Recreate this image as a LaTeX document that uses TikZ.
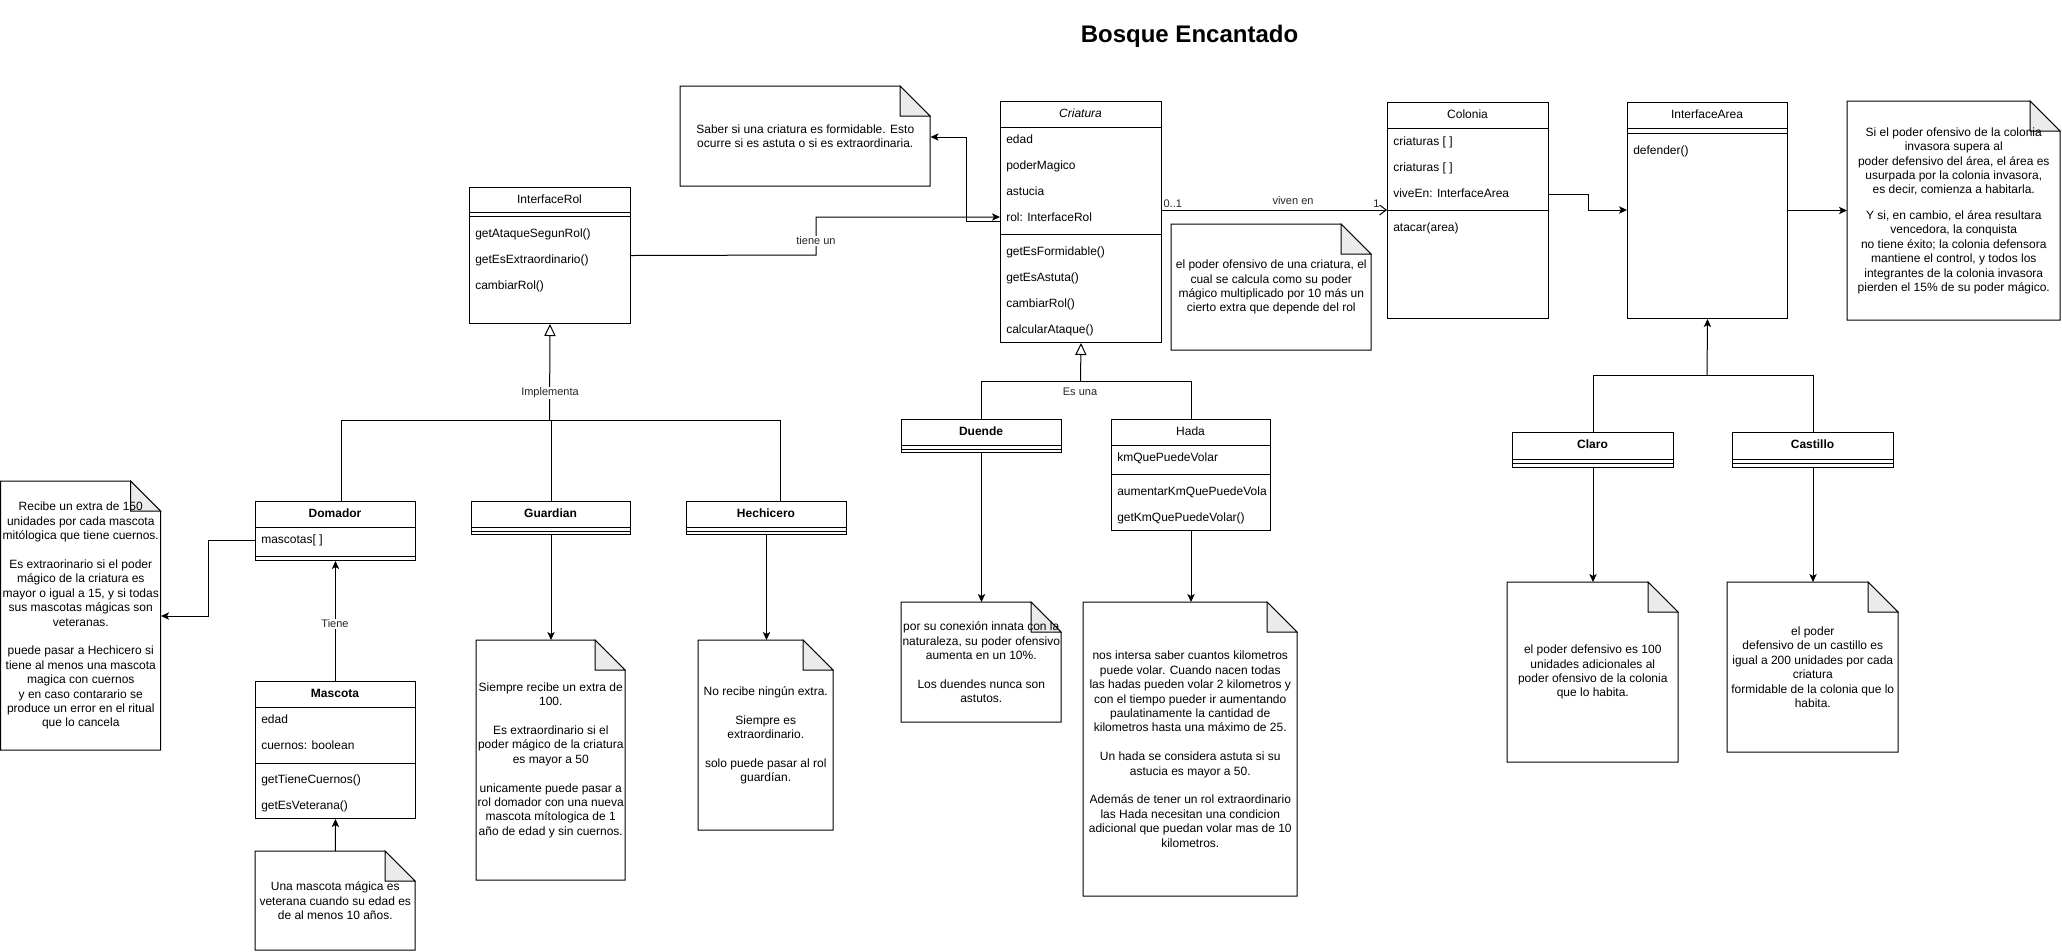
\documentclass[tikz,border=0pt]{standalone}
\usepackage{fontspec}
\setmainfont{Liberation Sans}
\usetikzlibrary{arrows.meta}
\tikzset{
  base/.style={font=\fontsize{9}{10.8}\selectfont, text=black},
  cls/.style={draw, line width=0.75pt, inner sep=0pt, anchor=north west, fill=white},
  hdr/.style={base, inner sep=0pt, text height=6.5pt, text depth=1.8pt},
  hdrb/.style={hdr, font=\fontsize{9}{10.8}\selectfont\bfseries},
  hdri/.style={hdr, font=\fontsize{9}{10.8}\selectfont\itshape},
  row/.style={base, anchor=west, inner sep=0pt, text height=6.5pt, text depth=1.8pt},
  sepline/.style={line width=0.75pt},
  notebody/.style={draw, line width=0.75pt, fill=white, line join=miter},
  notefold/.style={draw, line width=0.75pt, fill=black!8, line join=miter},
  noteanchor/.style={inner sep=0pt, anchor=north west},
  notetext/.style={base, align=center, inner sep=0pt},
  conn/.style={line width=0.75pt},
  arr/.style={conn, -{Stealth[length=6pt, width=5.5pt, inset=1.5pt]}},
  inh/.style={conn, -{Triangle[open, length=9pt, width=8.5pt]}},
  barb/.style={conn, -{Straight Barb[length=5pt, width=7.5pt]}},
  elabel/.style={font=\fontsize{8.25}{9.9}\selectfont, text=black!85, inner sep=1pt},
}
\newcommand\clsbox[5]{\node[cls, minimum width={#4*0.75pt}, minimum height={#5*0.75pt}] (#1) at (#2,#3) {};}
\newcommand\sepat[3]{\draw[sepline] (#1,#3) -- ({#1+#2},#3);}
\newcommand\notebox[6]{%
  \draw[notebody] (#2,#3) -- ({#2+#4-30},#3) -- ({#2+#4},{#3+30}) -- ({#2+#4},{#3+#5}) -- (#2,{#3+#5}) -- cycle;
  \draw[notefold] ({#2+#4-30},#3) -- ({#2+#4-30},{#3+30}) -- ({#2+#4},{#3+30}) -- cycle;
  \node[noteanchor, minimum width={#4*0.75pt}, minimum height={#5*0.75pt}] (#1) at (#2,#3) {};
  \node[notetext] (#1-text) at (#1.center) {#6};
}
\begin{document}
\begin{tikzpicture}[x=0.75pt, y=-0.75pt]
\useasboundingbox (0,0) rectangle (2062,951);
\fill[white] (0,0) rectangle (2062,951);

% title
\node[font=\fontsize{18}{22}\selectfont\bfseries] (title) at (1189.5,36) {Bosque Encantado};

% ---------- InterfaceRol
\clsbox{irol}{469}{187}{161}{136}
\node[hdr] (irol-name) at (549.5,200) {InterfaceRol};
\sepat{469}{161}{212}\sepat{469}{161}{216}
\node[row] (irol-m1) at (475,234) {getAtaqueSegunRol()};
\node[row] (irol-m2) at (475,260) {getEsExtraordinario()};
\node[row] (irol-m3) at (475,286) {cambiarRol()};

% ---------- Criatura
\clsbox{criatura}{1000}{101}{161}{241}
\node[hdri] (cri-name) at (1080.5,114) {Criatura};
\sepat{1000}{161}{127}
\node[row] (cri-a1) at (1006,140) {edad};
\node[row] (cri-a2) at (1006,166) {poderMagico};
\node[row] (cri-a3) at (1006,192) {astucia};
\node[row] (cri-a4) at (1006,218) {rol: InterfaceRol};
\sepat{1000}{161}{234}
\node[row] (cri-m1) at (1006,252) {getEsFormidable()};
\node[row] (cri-m2) at (1006,278) {getEsAstuta()};
\node[row] (cri-m3) at (1006,304) {cambiarRol()};
\node[row] (cri-m4) at (1006,330) {calcularAtaque()};

% ---------- Colonia
\clsbox{colonia}{1387}{102}{161}{216}
\node[hdr] (col-name) at (1467.5,115) {Colonia};
\sepat{1387}{161}{128}
\node[row] (col-a1) at (1393,142) {criaturas [ ]};
\node[row] (col-a2) at (1393,168) {criaturas [ ]};
\node[row] (col-a3) at (1393,194) {viveEn: InterfaceArea};
\sepat{1387}{161}{210}
\node[row] (col-m1) at (1393,228) {atacar(area)};

% ---------- InterfaceArea
\clsbox{iarea}{1627}{102}{160}{216}
\node[hdr] (iarea-name) at (1707,115) {InterfaceArea};
\sepat{1627}{160}{128}\sepat{1627}{160}{133}
\node[row] (iarea-m1) at (1633,151) {defender()};

% ---------- Domador
\clsbox{domador}{255}{501}{160}{59}
\node[hdrb] (dom-name) at (335,514) {Domador};
\sepat{255}{160}{527}
\node[row] (dom-a1) at (261,540) {mascotas[ ]};
\sepat{255}{160}{556}

% ---------- Guardian
\clsbox{guardian}{471}{501}{159}{33}
\node[hdrb] (gua-name) at (550.5,514) {Guardian};
\sepat{471}{159}{527}\sepat{471}{159}{531}

% ---------- Hechicero
\clsbox{hechicero}{686}{501}{160}{33}
\node[hdrb] (hec-name) at (766,514) {Hechicero};
\sepat{686}{160}{527}\sepat{686}{160}{531}

% ---------- Mascota
\clsbox{mascota}{255}{681}{160}{137}
\node[hdrb] (mas-name) at (335,694) {Mascota};
\sepat{255}{160}{707}
\node[row] (mas-a1) at (261,720) {edad};
\node[row] (mas-a2) at (261,746) {cuernos: boolean};
\sepat{255}{160}{763}
\node[row] (mas-m1) at (261,780) {getTieneCuernos()};
\node[row] (mas-m2) at (261,806) {getEsVeterana()};

% ---------- Duende
\clsbox{duende}{901}{419}{160}{33}
\node[hdrb] (due-name) at (981,432) {Duende};
\sepat{901}{160}{445}\sepat{901}{160}{449}

% ---------- Hada
\clsbox{hada}{1111}{419}{159}{111}
\node[hdr] (hada-name) at (1190.5,432) {Hada};
\sepat{1111}{159}{445}
\node[row] (hada-a1) at (1117,458) {kmQuePuedeVolar};
\sepat{1111}{159}{474}
\node[row] (hada-m1) at (1117,492) {aumentarKmQuePuedeVola};
\node[row] (hada-m2) at (1117,518) {getKmQuePuedeVolar()};

% ---------- Claro / Castillo
\clsbox{claro}{1512}{432}{161}{35}
\node[hdrb] (cla-name) at (1592.5,445) {Claro};
\sepat{1512}{161}{459}\sepat{1512}{161}{463}
\clsbox{castillo}{1732}{432}{161}{35}
\node[hdrb] (cas-name) at (1812.5,445) {Castillo};
\sepat{1732}{161}{459}\sepat{1732}{161}{463}

% ---------- Notes
\notebox{ndom}{0.5}{481}{160}{269}{Recibe un extra de 150\\unidades por cada mascota\\mitólogica que tiene cuernos.\\[10.8pt]Es extraorinario si el poder\\mágico de la criatura es\\mayor o igual a 15, y si todas\\sus mascotas mágicas son\\veteranas.\\[10.8pt]puede pasar a Hechicero si\\tiene al menos una mascota\\magica con cuernos\\y en caso contarario se\\produce un error en el ritual\\que lo cancela}
\notebox{nmas}{255}{851}{160}{99}{Una mascota mágica es\\veterana cuando su edad es\\de al menos 10 años.}
\notebox{ngua}{476}{640}{149}{240}{Siempre recibe un extra de\\100.\\[10.8pt]Es extraordinario si el\\poder mágico de la criatura\\es mayor a 50\\[10.8pt]unicamente puede pasar a\\rol domador con una nueva\\mascota mítologica de 1\\año de edad y sin cuernos.}
\notebox{nhec}{698}{640}{135}{190}{No recibe ningún extra.\\[10.8pt]Siempre es\\extraordinario.\\[10.8pt]solo puede pasar al rol\\guardían.}
\notebox{nsab}{680}{86}{250}{100}{Saber si una criatura es formidable. Esto\\ocurre si es astuta o si es extraordinaria.}
\notebox{ncri}{1171}{224}{200}{126}{el poder ofensivo de una criatura, el\\cual se calcula como su poder\\mágico multiplicado por 10 más un\\cierto extra que depende del rol}
\notebox{ndue}{901}{602}{160}{120}{por su conexión innata con la\\naturaleza, su poder ofensivo\\aumenta en un 10\%.\\[10.8pt]Los duendes nunca son\\astutos.}
\notebox{nhad}{1083}{602}{214}{294}{nos intersa saber cuantos kilometros\\puede volar. Cuando nacen todas\\las hadas pueden volar 2 kilometros y\\con el tiempo pueder ir aumentando\\paulatinamente la cantidad de\\kilometros hasta una máximo de 25.\\[10.8pt]Un hada se considera astuta si su\\astucia es mayor a 50.\\[10.8pt]Además de tener un rol extraordinario\\las Hada necesitan una condicion\\adicional que puedan volar mas de 10\\kilometros.}
\notebox{narea}{1847}{101}{213}{219}{Si el poder ofensivo de la colonia\\invasora supera al\\poder defensivo del área, el área es\\usurpada por la colonia invasora,\\es decir, comienza a habitarla.\\[8.5pt]Y si, en cambio, el área resultara\\vencedora, la conquista\\no tiene éxito; la colonia defensora\\mantiene el control, y todos los\\integrantes de la colonia invasora\\pierden el 15\% de su poder mágico.}
\notebox{ncla}{1507}{582}{171}{180}{el poder defensivo es 100\\unidades adicionales al\\poder ofensivo de la colonia\\que lo habita.}
\notebox{ncas}{1727}{582}{171}{170}{el poder\\defensivo de un castillo es\\igual a 200 unidades por cada\\criatura\\formidable de la colonia que lo\\habita.}

% ---------- Connectors
% tiene un
\coordinate (tu1) at (816,255);
\coordinate (tu2) at (816,217);
\draw[arr] (irol.east) -- (tu1) -- (tu2) -- (criatura.west |- tu2);
\node[elabel, fill=white] (lbl-tiene) at (816,241) {tiene un};

% Criatura -> Saber note
\coordinate (sb1) at (966,221);
\coordinate (sb2) at (966,137);
\draw[arr] (criatura.west |- sb1) -- (sb1) -- (sb2) -- (nsab.east |- sb2);

% viven en
\coordinate (vv) at (1270,210);
\draw[barb] (criatura.east |- vv) -- (colonia.west |- vv);
\node[elabel, anchor=south west] (lbl-01) at (1162,209) {0..1};
\node[elabel] (lbl-viven) at (1293,201) {viven en};
\node[elabel, anchor=south east] (lbl-1) at (1381,209) {1};

% Colonia -> InterfaceArea
\coordinate (c1) at (1588,194);
\coordinate (c2) at (1588,210);
\draw[arr] (colonia.east |- c1) -- (c1) -- (c2) -- (iarea.west |- c2);

% InterfaceArea -> note
\draw[arr] (iarea.east) -- (narea.west |- iarea.east);

% Claro / Castillo -> InterfaceArea
\coordinate (jn) at (1707,375);
\draw[conn] (claro.north) |- (jn);
\draw[conn] (castillo.north) |- (jn);
\draw[arr] (jn) -- (iarea.south);
\draw[arr] (claro.south) -- (claro.south |- ncla.north);
\draw[arr] (castillo.south) -- (castillo.south |- ncas.north);

% Es una
\coordinate (eu) at (1080.5,381);
\draw[conn] (duende.north) |- (eu);
\draw[conn] (hada.north) |- (eu);
\draw[inh] (eu) -- (criatura.south);
\node[elabel] (lbl-esuna) at (1080,392) {Es una};
\draw[arr] (duende.south) -- (duende.south |- ndue.north);
\draw[arr] (hada.south) -- (hada.south |- nhad.north);

% Implementa
\coordinate (im) at (549.5,420);
\coordinate (imL) at (341,420);
\coordinate (imR) at (780,420);
\draw[conn] (imL |- domador.north) -- (imL) -- (imR) -- (imR |- hechicero.north);
\draw[conn] (guardian.north) -- (guardian.north |- im);
\draw[inh] (im) -- (irol.south);
\node[elabel, fill=white] (lbl-impl) at (550,393) {Implementa};
\draw[arr] (guardian.south) -- (guardian.south |- ngua.north);
\draw[arr] (hechicero.south) -- (hechicero.south |- nhec.north);

% Domador -> note
\coordinate (d1) at (208,540);
\coordinate (d2) at (208,616);
\draw[arr] (domador.west |- d1) -- (d1) -- (d2) -- (ndom.east |- d2);

% Tiene
\draw[arr] (mascota.north) -- (domador.south);
\node[elabel, fill=white] (lbl-tiene2) at (335,624) {Tiene};

% Mascota note -> Mascota
\draw[arr] (nmas.north) -- (mascota.south);
\end{tikzpicture}
\end{document}
